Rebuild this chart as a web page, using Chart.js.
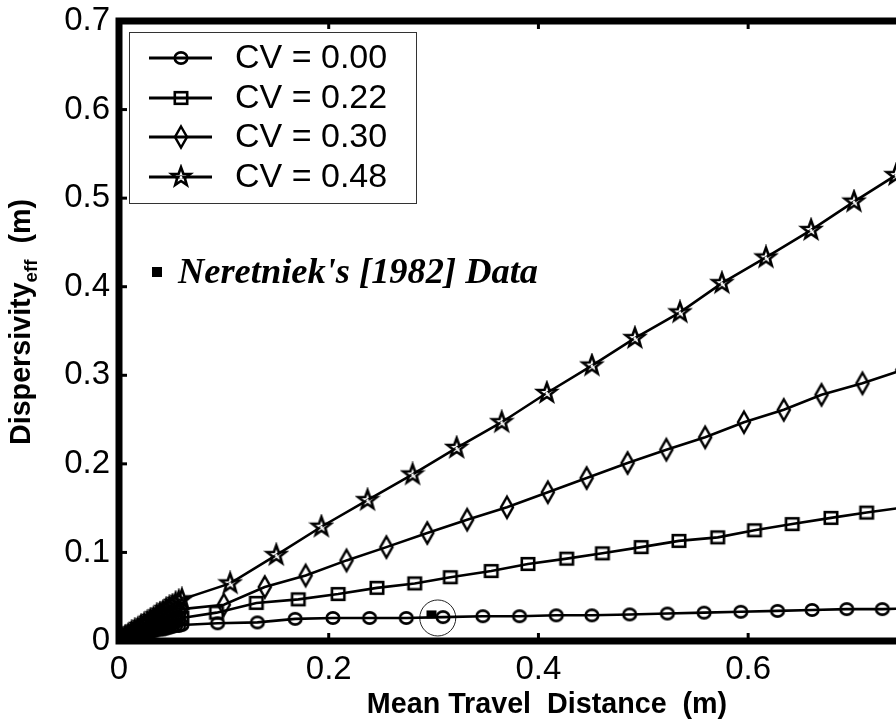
<!DOCTYPE html>
<html><head><meta charset="utf-8">
<script src="https://cdn.jsdelivr.net/npm/chart.js@4.4.1/dist/chart.umd.min.js"></script>
<style>html,body{margin:0;padding:0;background:#fff;overflow:hidden}#wrap{width:896px;height:720px;position:relative}</style>
</head><body><div id="wrap"><canvas id="c" width="896" height="720"></canvas></div>
<script>
// ---- data ----
const legendLabels = ['CV = 0.00', 'CV = 0.22', 'CV = 0.30', 'CV = 0.48'];
const xTickValues = [0, 0.2, 0.4, 0.6];
const yTickValues = [0, 0.1, 0.2, 0.3, 0.4, 0.5, 0.6, 0.7];
const xTitle = 'Mean Travel  Distance  (m)';
const yTitleMain = 'Dispersivity';
const yTitleSub = 'eff';
const yTitleUnit = '  (m)';
const noteText = "Neretniek's [1982] Data";

const cv000X = [0, 0.003, 0.006, 0.009, 0.012, 0.015, 0.018, 0.021, 0.024, 0.027, 0.030, 0.033, 0.036, 0.039, 0.042, 0.045, 0.048, 0.051, 0.054, 0.057, 0.060, 0.094, 0.132, 0.168, 0.204, 0.239, 0.274, 0.309, 0.347, 0.382, 0.417, 0.451, 0.487, 0.523, 0.558, 0.593, 0.628, 0.661, 0.694, 0.728, 0.762];
const cv000Y = [0, 0.001, 0.002, 0.003, 0.004, 0.005, 0.006, 0.007, 0.008, 0.009, 0.010, 0.011, 0.012, 0.013, 0.013, 0.014, 0.015, 0.016, 0.017, 0.017, 0.018, 0.020, 0.021, 0.025, 0.026, 0.026, 0.026, 0.027, 0.028, 0.028, 0.029, 0.029, 0.030, 0.031, 0.032, 0.033, 0.034, 0.035, 0.036, 0.036, 0.037];

const cv022X = [0, 0.003, 0.006, 0.009, 0.012, 0.015, 0.018, 0.021, 0.024, 0.027, 0.030, 0.033, 0.036, 0.039, 0.042, 0.045, 0.048, 0.051, 0.054, 0.057, 0.060, 0.093, 0.131, 0.171, 0.209, 0.246, 0.282, 0.316, 0.355, 0.390, 0.427, 0.461, 0.498, 0.534, 0.571, 0.606, 0.642, 0.679, 0.713, 0.749];
const cv022Y = [0, 0.001, 0.003, 0.004, 0.006, 0.007, 0.008, 0.010, 0.011, 0.012, 0.013, 0.015, 0.016, 0.017, 0.018, 0.020, 0.021, 0.022, 0.023, 0.025, 0.026, 0.032, 0.043, 0.047, 0.053, 0.060, 0.065, 0.072, 0.079, 0.087, 0.093, 0.099, 0.106, 0.113, 0.117, 0.125, 0.132, 0.139, 0.145, 0.151];

const cv030X = [0, 0.003, 0.006, 0.009, 0.012, 0.015, 0.018, 0.021, 0.024, 0.027, 0.030, 0.033, 0.036, 0.039, 0.042, 0.045, 0.048, 0.051, 0.054, 0.057, 0.060, 0.100, 0.139, 0.178, 0.217, 0.255, 0.294, 0.332, 0.370, 0.409, 0.446, 0.485, 0.522, 0.559, 0.596, 0.634, 0.670, 0.709, 0.747];
const cv030Y = [0, 0.002, 0.004, 0.006, 0.008, 0.009, 0.011, 0.013, 0.015, 0.017, 0.018, 0.020, 0.022, 0.024, 0.026, 0.027, 0.029, 0.031, 0.033, 0.034, 0.036, 0.041, 0.061, 0.074, 0.091, 0.106, 0.122, 0.137, 0.151, 0.168, 0.184, 0.201, 0.216, 0.230, 0.247, 0.261, 0.278, 0.291, 0.306];

const cv048X = [0, 0.003, 0.006, 0.009, 0.012, 0.015, 0.018, 0.021, 0.024, 0.027, 0.030, 0.033, 0.036, 0.039, 0.042, 0.045, 0.048, 0.051, 0.054, 0.057, 0.060, 0.106, 0.150, 0.193, 0.237, 0.280, 0.322, 0.365, 0.408, 0.451, 0.492, 0.535, 0.575, 0.617, 0.660, 0.701, 0.741, 0.783];
const cv048Y = [0, 0.002, 0.005, 0.007, 0.010, 0.012, 0.014, 0.017, 0.019, 0.021, 0.024, 0.026, 0.029, 0.031, 0.033, 0.036, 0.038, 0.040, 0.043, 0.045, 0.047, 0.065, 0.097, 0.129, 0.159, 0.188, 0.218, 0.247, 0.280, 0.311, 0.342, 0.371, 0.404, 0.433, 0.464, 0.496, 0.526, 0.556];

const neretniekX = [0.298];
const neretniekY = [0.030];
const highlightX = [0.304];
const highlightY = [0.026];

// ---- marker images ----
function mk(w, h, draw) {
  const c = document.createElement('canvas');
  c.width = w; c.height = h;
  const g = c.getContext('2d');
  g.strokeStyle = '#000'; g.fillStyle = '#000';
  draw(g, w / 2, h / 2);
  return c;
}
const mCircle = mk(20, 20, (g, cx, cy) => { g.lineWidth = 2.6; g.beginPath(); g.ellipse(cx, cy, 6.3, 5.6, 0, 0, Math.PI * 2); g.stroke(); });
const mSquare = mk(20, 20, (g, cx, cy) => { g.lineWidth = 2.6; g.strokeRect(cx - 6.2, cy - 5.8, 12.4, 11.6); });
const mDiamond = mk(20, 28, (g, cx, cy) => { g.lineWidth = 2.5; g.lineJoin = 'miter'; g.beginPath(); g.moveTo(cx, cy - 10.5); g.lineTo(cx + 6, cy); g.lineTo(cx, cy + 10.5); g.lineTo(cx - 6, cy); g.closePath(); g.stroke(); });
const mStar = mk(26, 26, (g, cx, cy) => {
  g.lineWidth = 2.6; g.lineJoin = 'miter'; g.beginPath();
  for (let i = 0; i < 10; i++) {
    const r = i % 2 === 0 ? 9.8 : 4.0;
    const a = -Math.PI / 2 + i * Math.PI / 5;
    const px = cx + r * Math.cos(a), py = cy + r * Math.sin(a);
    if (i === 0) g.moveTo(px, py); else g.lineTo(px, py);
  }
  g.closePath(); g.stroke();
  g.fillStyle = '#fff'; g.beginPath(); g.arc(cx, cy + 0.5, 1.4, 0, Math.PI * 2); g.fill();
});
const mData = mk(12, 10, (g) => { g.fillRect(1, 1, 10, 8); });
const markers = [mCircle, mSquare, mDiamond, mStar];

function pts(xs, ys) { return xs.map((x, i) => ({ x: x, y: ys[i] })); }

const seriesX = [cv000X, cv022X, cv030X, cv048X];
const seriesY = [cv000Y, cv022Y, cv030Y, cv048Y];

const datasets = seriesX.map((xs, k) => ({
  label: legendLabels[k],
  data: pts(xs, seriesY[k]),
  borderColor: '#000',
  borderWidth: 2.6,
  pointStyle: markers[k],
  pointRadius: 12,
  pointHoverRadius: 12,
  tension: 0,
  fill: false
}));
datasets.push({
  label: 'highlight', data: pts(highlightX, highlightY), showLine: false,
  pointStyle: 'circle', pointRadius: 18, borderColor: '#222', borderWidth: 1,
  backgroundColor: 'rgba(0,0,0,0)'
});
datasets.push({
  label: noteText, data: pts(neretniekX, neretniekY), showLine: false,
  pointStyle: mData, pointRadius: 6
});

const FONT = '"Liberation Sans", Arial, Helvetica, sans-serif';

const decor = {
  id: 'decor',
  afterDraw(chart) {
    const ctx = chart.ctx;
    const a = chart.chartArea;
    const xs = chart.scales.x, ys = chart.scales.y;
    ctx.save();
    // frame
    ctx.strokeStyle = '#000'; ctx.fillStyle = '#000';
    ctx.lineWidth = 7; ctx.lineCap = 'butt'; ctx.lineJoin = 'miter';
    ctx.beginPath();
    ctx.moveTo(a.right + 10, a.top); ctx.lineTo(a.left, a.top); ctx.lineTo(a.left, a.bottom); ctx.lineTo(a.right + 10, a.bottom);
    ctx.stroke();
    // inward ticks
    yTickValues.forEach(v => {
      if (v === 0 || v === 0.7) return;
      const py = ys.getPixelForValue(v);
      ctx.fillRect(a.left, py - 1.5, 8, 3);
    });
    xTickValues.forEach(v => {
      if (v === 0) return;
      const px = xs.getPixelForValue(v);
      ctx.fillRect(px - 1.5, a.bottom - 8, 3, 8);
      ctx.fillRect(px - 1.5, a.top, 3, 8);
    });
    // legend
    ctx.fillStyle = '#fff';
    ctx.fillRect(129, 32, 287, 171);
    ctx.strokeStyle = '#333'; ctx.lineWidth = 1;
    ctx.strokeRect(129.5, 32.5, 287, 171);
    const rows = [58, 98, 137, 177];
    ctx.font = '34px ' + FONT;
    ctx.textBaseline = 'middle'; ctx.textAlign = 'left';
    rows.forEach((ry, k) => {
      ctx.strokeStyle = '#000'; ctx.lineWidth = 2.8;
      ctx.beginPath(); ctx.moveTo(149, ry); ctx.lineTo(212, ry); ctx.stroke();
      const m = markers[k];
      ctx.drawImage(m, 181 - m.width / 2, ry - m.height / 2);
      ctx.fillStyle = '#000';
      ctx.fillText(legendLabels[k], 235, ry + 1);
    });
    // note
    ctx.fillStyle = '#000';
    ctx.fillRect(152, 267, 10, 10);
    ctx.font = 'bold italic 36px "Liberation Serif", "Times New Roman", serif';
    ctx.textBaseline = 'alphabetic';
    let nw = ctx.measureText(noteText).width;
    ctx.save();
    ctx.translate(178, 283);
    ctx.scale(360 / nw, 1);
    ctx.fillText(noteText, 0, 0);
    ctx.restore();
    // x title
    ctx.font = 'bold 26px ' + FONT;
    let w = ctx.measureText(xTitle).width;
    const xs2 = 26 * 361 / w;
    ctx.font = 'bold ' + xs2.toFixed(1) + 'px ' + FONT;
    ctx.textAlign = 'center'; ctx.textBaseline = 'middle';
    ctx.fillText(xTitle, 547, 705);
    // y title
    const S = xs2;
    ctx.translate(20, 322);
    ctx.rotate(-Math.PI / 2);
    ctx.textAlign = 'left'; ctx.textBaseline = 'alphabetic';
    ctx.font = 'bold ' + S.toFixed(1) + 'px ' + FONT;
    const w1 = ctx.measureText(yTitleMain).width;
    const w3 = ctx.measureText(yTitleUnit).width;
    const subS = S * 0.65;
    ctx.font = 'bold ' + subS.toFixed(1) + 'px ' + FONT;
    const w2 = ctx.measureText(yTitleSub).width;
    const W = w1 + w2 + w3;
    const base = 0.36 * S;
    let x0 = -W / 2;
    ctx.font = 'bold ' + S.toFixed(1) + 'px ' + FONT;
    ctx.fillText(yTitleMain, x0, base);
    ctx.font = 'bold ' + subS.toFixed(1) + 'px ' + FONT;
    ctx.fillText(yTitleSub, x0 + w1, base + 0.22 * S);
    ctx.font = 'bold ' + S.toFixed(1) + 'px ' + FONT;
    ctx.fillText(yTitleUnit, x0 + w1 + w2, base);
    ctx.restore();
  }
};

new Chart(document.getElementById('c'), {
  type: 'line',
  data: { datasets: datasets },
  plugins: [decor],
  options: {
    responsive: false,
    animation: false,
    events: [],
    layout: { autoPadding: false, padding: { top: 21, right: 0, left: 0, bottom: 0 } },
    plugins: { legend: { display: false }, tooltip: { enabled: false } },
    scales: {
      x: {
        type: 'linear', min: 0, max: 0.741,
        afterFit(s) { s.height = 79; s.paddingLeft = 0; s.paddingRight = 0; },
        afterBuildTicks(s) { s.ticks = xTickValues.map(v => ({ value: v })); },
        grid: { display: false, drawTicks: false },
        border: { display: false },
        ticks: { color: '#000', padding: 9, font: { family: FONT, size: 33 }, maxRotation: 0,
          callback: v => String(v) }
      },
      y: {
        type: 'linear', min: 0, max: 0.7,
        afterFit(s) { s.width = 119; s.paddingTop = 0; s.paddingBottom = 0; },
        afterBuildTicks(s) { s.ticks = yTickValues.map(v => ({ value: v })); },
        grid: { display: false, drawTicks: false },
        border: { display: false },
        ticks: { color: '#000', padding: 9, font: { family: FONT, size: 33 },
          callback: v => String(v) }
      }
    }
  }
});
</script>
</body></html>
